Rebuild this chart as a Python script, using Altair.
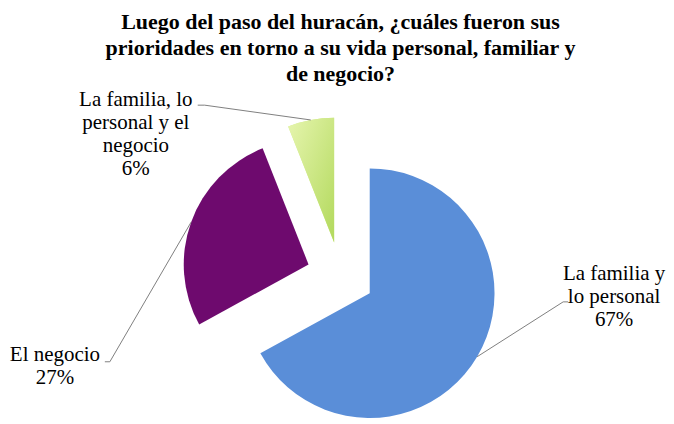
import altair as alt
import pandas as pd

# ---- data ----
categories = ["La familia y lo personal", "El negocio", "La familia, lo personal y el negocio"]
values = [67, 27, 6]
label_texts = ["La familia y\nlo personal\n67%", "El negocio\n27%", "La familia, lo\npersonal y el\nnegocio\n6%"]
title_lines = ["Luego del paso del huracán,  ¿cuáles fueron sus",
               "prioridades  en torno  a su vida personal,  familiar  y",
               "de negocio?"]

# ---- styles / layout ----
FONT = "Liberation Serif"
colors = ["#5A8ED8", "#6E0A6E", "#D4EE90"]
CX, CY, EXPLODE, R = 333, 268, 34, 125
LABEL_LH, TITLE_LH = 23, 26
label_pos = {  # first-line center of label block, leader elbow, leader end (pixels)
    categories[0]: dict(lx=607, ly=266, ex=556, ey=294, tx=561, ty=294),
    categories[1]: dict(lx=47, ly=347, ex=102, ey=354, tx=97, ty=354),
    categories[2]: dict(lx=128, ly=92, ex=197, ey=97, tx=190, ty=97),
}
TITLE_X, TITLE_Y = 333, 14

df = pd.DataFrame({"category": categories, "value": values})
df["order"] = range(len(df))
for k in ["ex", "ey", "tx", "ty"]:
    df[k] = [label_pos[c][k] for c in categories]

rows = []
for c, txt in zip(categories, label_texts):
    for i, line in enumerate(txt.split("\n")):
        rows.append({"category": c, "line": line, "i": i,
                     "lx": label_pos[c]["lx"], "ly": label_pos[c]["ly"]})
label_df = pd.DataFrame(rows)

title_df = pd.DataFrame({"line": title_lines, "i": range(len(title_lines))})

base = alt.Chart(df).transform_joinaggregate(
    total="sum(value)"
).transform_window(
    cum="sum(value)", sort=[alt.SortField("order")], frame=[None, 0]
).transform_calculate(
    start="(datum.cum - datum.value) / datum.total * 2 * PI",
    end="datum.cum / datum.total * 2 * PI",
).transform_calculate(
    mid="(datum.start + datum.end) / 2",
).transform_calculate(
    cx=f"{CX} + {EXPLODE} * sin(datum.mid)",
    cy=f"{CY} - {EXPLODE} * cos(datum.mid)",
).transform_calculate(
    ax=f"datum.cx + {R} * sin(datum.mid)",
    ay=f"datum.cy - {R} * cos(datum.mid)",
)

arcs = base.mark_arc(radius=R).encode(
    x=alt.X("cx:Q", scale=None),
    y=alt.Y("cy:Q", scale=None),
    theta=alt.Theta("start:Q", scale=None, stack=None),
    theta2="end:Q",
    color=alt.Color("category:N", scale=alt.Scale(domain=categories, range=colors), legend=None),
)

green = base.transform_filter(
    alt.datum.category == categories[2]
).mark_arc(
    radius=R,
    fill=alt.LinearGradient(
        gradient="linear",
        stops=[alt.GradientStop(color="#E6F5AE", offset=0),
               alt.GradientStop(color="#B2D95C", offset=1)],
        x1=0, y1=0, x2=1, y2=1,
    ),
).encode(
    x=alt.X("cx:Q", scale=None),
    y=alt.Y("cy:Q", scale=None),
    theta=alt.Theta("start:Q", scale=None, stack=None),
    theta2="end:Q",
)

leader = base.mark_rule(color="#7F7F7F", strokeWidth=1).encode(
    x=alt.X("ax:Q", scale=None), y=alt.Y("ay:Q", scale=None),
    x2="ex:Q", y2="ey:Q",
)
hook = base.mark_rule(color="#7F7F7F", strokeWidth=1).encode(
    x=alt.X("ex:Q", scale=None), y=alt.Y("ey:Q", scale=None),
    x2="tx:Q", y2="ty:Q",
)

labels = alt.Chart(label_df).transform_calculate(
    yy=f"datum.ly + datum.i * {LABEL_LH}"
).mark_text(
    font=FONT, fontSize=21, align="center", baseline="middle",
).encode(
    x=alt.X("lx:Q", scale=None), y=alt.Y("yy:Q", scale=None), text="line:N",
)

title = alt.Chart(title_df).transform_calculate(
    yy=f"{TITLE_Y} + datum.i * {TITLE_LH}"
).mark_text(
    font=FONT, fontSize=22, fontWeight="bold", align="center", baseline="middle",
).encode(
    x=alt.value(TITLE_X), y=alt.Y("yy:Q", scale=None), text="line:N",
)

chart = alt.layer(arcs, green, leader, hook, labels, title).properties(
    width=658, height=408, padding=0,
    view=alt.ViewBackground(strokeOpacity=0),
)

chart.save("out.html", embed_options={"renderer": "svg", "actions": False})
